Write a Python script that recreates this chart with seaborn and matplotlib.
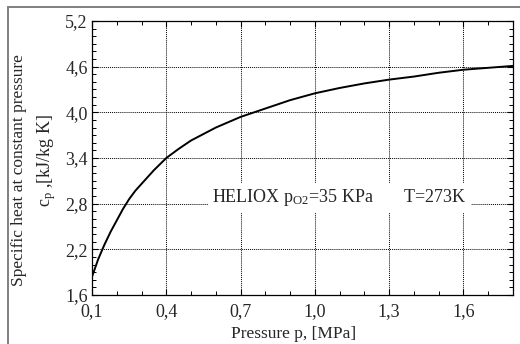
import numpy as np
import pandas as pd
import matplotlib
matplotlib.use("Agg")
import matplotlib.pyplot as plt
from matplotlib.lines import Line2D
from matplotlib.ticker import FixedLocator, MultipleLocator
import seaborn as sns

# values
pressure = [0.10, 0.125, 0.15, 0.175, 0.20, 0.225, 0.25, 0.275, 0.30, 0.325, 0.35,
            0.375, 0.40, 0.45, 0.50, 0.60, 0.70, 0.80, 0.90, 1.00, 1.10, 1.20,
            1.30, 1.40, 1.50, 1.60, 1.80]
cp = [1.84, 2.07, 2.26, 2.43, 2.58, 2.73, 2.86, 2.97, 3.06, 3.15, 3.24,
      3.32, 3.40, 3.52, 3.63, 3.80, 3.94, 4.05, 4.16, 4.25, 4.32, 4.38,
      4.43, 4.47, 4.52, 4.56, 4.61]

x_ticks = [0.1, 0.4, 0.7, 1.0, 1.3, 1.6]
x_labels = ["0,1", "0,4", "0,7", "1,0", "1,3", "1,6"]
y_ticks = [1.6, 2.2, 2.8, 3.4, 4.0, 4.6, 5.2]
y_labels = ["1,6", "2,2", "2,8", "3,4", "4,0", "4,6", "5,2"]

df = pd.DataFrame({"p": pressure, "cp": cp})

sns.set_style("ticks")
plt.rcParams["font.family"] = ["Liberation Serif", "DejaVu Serif"]
plt.rcParams["mathtext.fontset"] = "custom"
plt.rcParams["mathtext.rm"] = "Liberation Serif"

fs = 13

fig = plt.figure(figsize=(5.2, 3.44), dpi=100)
ax = fig.add_axes([92 / 520, 49 / 344, 421 / 520, 274 / 344])

sns.lineplot(data=df, x="p", y="cp", color="black", linewidth=1.4, ax=ax)

ax.set_xlim(0.1, 1.8)
ax.set_ylim(1.6, 5.2)
ax.xaxis.set_major_locator(FixedLocator(x_ticks))
ax.set_xticklabels(x_labels)
ax.yaxis.set_major_locator(FixedLocator(y_ticks))
ax.set_yticklabels(y_labels)
ax.xaxis.set_minor_locator(MultipleLocator(0.1))
ax.yaxis.set_minor_locator(MultipleLocator(0.1))
ax.tick_params(which="both", direction="in", top=True, right=True,
               labelsize=fs, color="black")
ax.tick_params(which="major", length=4, width=0.8)
ax.tick_params(which="minor", length=3, width=0.7)
ax.tick_params(axis="x", pad=6)
ax.tick_params(axis="y", pad=3)
ax.grid(True, which="major", color="black", linestyle=(0, (1, 1)), linewidth=0.7)
for s in ax.spines.values():
    s.set_color("black")
    s.set_linewidth(0.9)
ax.set_xlabel("")
ax.set_ylabel("")

ax.text(0.586, 2.82, r"HELIOX $\mathregular{p_{O2}}$=35 KPa       T=273K",
        fontsize=fs, va="baseline", ha="left", zorder=5,
        bbox=dict(boxstyle="square,pad=0.25", facecolor="white", edgecolor="none"))

fig.text(294 / 520, 1 - 334 / 344, "Pressure p, [MPa]", fontsize=12.5,
         ha="center", va="center")
fig.text(19 / 520, 1 - 170 / 344, "Specific heat at constant pressure",
         fontsize=12.5, rotation=90, ha="center", va="center")
fig.text(47 / 520, 1 - 160 / 344, r"$\mathregular{c_p}$ ,[kJ/kg K]",
         fontsize=fs, rotation=90, ha="center", va="center")

# grey page frame
fig.add_artist(Line2D([7.5 / 520, 7.5 / 520], [0, 1 - 7 / 344],
                      transform=fig.transFigure, color="#808080", linewidth=1.4))
fig.add_artist(Line2D([7.5 / 520, 1], [1 - 7 / 344, 1 - 7 / 344],
                      transform=fig.transFigure, color="#808080", linewidth=1.4))

fig.savefig("out.png", dpi=100)
